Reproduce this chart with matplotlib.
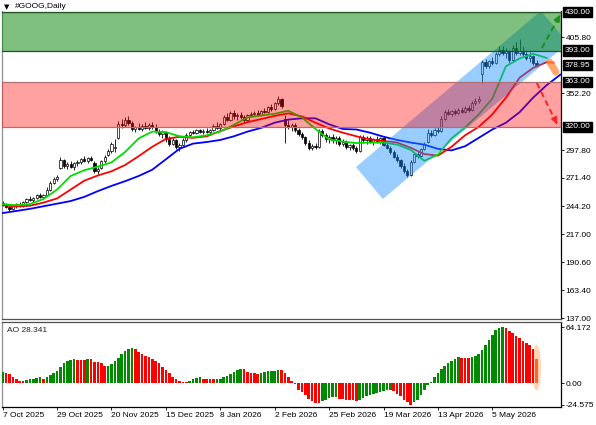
import matplotlib
matplotlib.use("Agg")
import matplotlib.pyplot as plt
from matplotlib.patches import Polygon, Ellipse
import numpy as np

plt.rcParams['font.family'] = ['Liberation Sans', 'DejaVu Sans']
plt.rcParams['font.size'] = 6

# ---------------- data ----------------
opens = [247,245,243,241,244,246,244,248,251,250, 252,255,253,255,260,266,270,281,288,283,
         284,282,285,286,289,287,290,285,278,281, 287,293,297,300,309,323,322,327,324,318,
         320,318,321,319,322,320,316,313,315,308, 304,307,301,303,307,312,315,314,317,315,
         316,315,317,321,319,323,329,327,333,330, 331,329,327,331,332,333,331,335,334,339,
         337,343,347,328,322,320,322,317,313,310, 305,300,302,301,316,312,308,310,307,309,
         304,306,301,303,300,297,310,307,309,306, 308,306,309,303,300,296,291,288,283,278,
         274,286,294,292,299,306,314,312,317,316, 328,334,332,335,333,336,334,338,336,343,
         345,371,382,378,383,381,390,394,391,393, 384,396,391,393,390,386,388,381]
highs = [249,247,245,245,247,248,249,252,254,253, 256,257,256,262,268,272,274,291,289,286,
         287,286,288,290,292,291,292,287,282,288, 293,299,306,308,326,328,329,330,326,321,
         324,323,325,324,325,323,318,317,316,311, 309,308,305,309,314,316,317,318,318,318,
         319,318,323,325,324,331,333,335,336,333, 334,331,332,334,335,336,336,338,340,342,
         344,350,348,331,327,324,324,319,315,311, 307,304,305,318,318,314,312,313,311,311,
         308,307,304,305,302,312,312,311,311,309, 311,310,310,305,302,298,294,289,285,280,
         288,296,297,300,306,318,317,319,320,330, 336,337,336,337,338,339,340,341,345,348,
         350,384,385,384,387,392,397,397,396,394, 398,401,404,397,394,392,389,384]
lows = [244,242,239,240,242,243,243,247,249,248, 251,252,251,254,259,265,268,280,281,280,
        281,279,283,284,286,285,287,276,275,280, 285,292,295,296,308,319,320,322,316,315,
        317,316,318,317,318,314,311,309,306,302, 303,299,297,302,306,311,313,313,314,313,
        314,312,316,318,317,322,326,326,328,327, 328,325,326,329,330,330,330,333,333,335,
        336,341,338,305,318,316,315,311,308,303, 298,298,299,300,310,306,305,305,304,302,
        302,299,298,298,295,296,305,304,305,303, 305,304,302,299,294,290,286,281,276,272,
        273,285,290,291,298,305,310,311,314,315, 327,331,330,331,332,333,333,334,335,341,
        343,362,376,376,379,380,388,389,386,381, 383,389,389,388,384,382,379,377]
closes = [245,243,241,244,246,244,248,251,250,252, 255,253,255,260,266,270,272,288,283,284,
          282,285,286,289,287,290,288,278,280,287, 291,297,304,301,323,322,327,324,318,320,
          318,321,319,322,320,316,313,315,308,304, 307,301,303,307,312,315,314,317,315,316,
          315,317,321,319,323,329,327,333,330,331, 329,327,331,332,333,331,335,334,339,337,
          343,347,340,322,320,322,317,313,310,305, 300,302,301,316,312,308,310,307,309,304,
          306,301,303,300,297,310,307,309,306,308, 306,309,303,300,296,291,288,283,278,274,
          286,294,292,299,304,314,312,317,316,328, 334,332,335,333,336,334,338,336,343,345,
          347,382,378,383,381,390,394,391,393,384, 396,391,393,390,386,388,381,378.95]

ao_values = [12.7, 11.6, 10.4, 7.7, 4.6, 3.1, 2.8, 3.9, 5.0, 5.7,
             6.6, 7.0, 5.7, 7.7, 9.6, 11.6, 14.6, 19.2, 23.1, 25.4,
             27.0, 27.6, 27.2, 26.9, 26.5, 27.8, 27.5, 25.0, 24.3, 23.1,
             20.0, 20.4, 22.4, 25.4, 28.8, 33.5, 37.4, 40.1, 41.2, 39.3,
             36.2, 33.5, 32.0, 30.0, 28.1, 26.1, 23.1, 19.2, 15.4, 11.6,
             7.7, 4.6, 2.7, 1.9, 1.5, 3.1, 5.0, 6.6, 6.9, 5.7,
             5.4, 5.1, 4.6, 5.0, 5.7, 6.9, 8.4, 10.4, 13.5, 15.4,
             16.5, 16.2, 13.5, 12.3, 11.6, 10.4, 12.3, 13.5, 13.8, 14.3,
             14.6, 15.4, 15.0, 11.6, 6.9, 3.1, -0.8, -7.7, -9.6, -13.5,
             -17.3, -20.0, -21.9, -22.4, -20.4, -18.5, -16.5, -15.4, -15.0, -17.3,
             -18.1, -18.5, -18.8, -19.2, -19.6, -18.5, -16.5, -14.6, -13.1, -11.6,
             -10.4, -9.3, -8.4, -7.7, -6.9, -8.4, -11.6, -14.6, -18.5, -21.2,
             -24.575, -21.2, -18.5, -13.5, -7.7, -1.9, 1.9, 6.9, 11.6, 16.2,
             20.0, 23.1, 26.1, 28.1, 30.0, 29.6, 29.4, 29.0, 30.0, 32.0,
             34.0, 38.0, 44.0, 49.8, 55.6, 61.5, 63.4, 64.172, 63.2, 60.5,
             57.4, 54.3, 51.6, 48.9, 46.6, 43.9, 40.0, 28.341]

# Alligator lines (already shifted forward, read at every 4th bar)
lips_bars = list(range(0, 161, 4))
lips = [246, 245, 246, 251, 260, 273, 278.5, 282, 286, 296,
        309, 315.5, 315, 311, 310, 312, 315.5, 322, 329, 331,
        332.5, 335.5, 329, 318, 308, 306, 304.5, 305, 305, 303,
        298, 287.5, 293.5, 309, 319.5, 332, 347, 378, 385.5, 390,
        386]
teeth_bars = list(range(0, 161, 4)) + [162]
teeth = [245, 243.8, 244.5, 247.5, 251.5, 260, 268.5, 273.5, 277.5, 283.5,
         292, 301, 308.5, 310.5, 309.5, 311, 316, 320.5, 324.5, 327.5,
         330.5, 333, 330, 324, 318.5, 314.5, 311, 308, 306.5, 305,
         300, 294, 292.5, 301, 312, 320, 332, 348, 367, 376.5,
         382, 381.5]
jaw_bars = list(range(0, 165, 4)) + [165]
jaw = [237.5, 239.5, 241.5, 244, 246.5, 249, 253, 258.5, 263.5, 268,
       273, 279, 289, 299, 304, 305.5, 307.5, 311, 315.5, 319,
       324, 327, 328.2, 328.2, 322.5, 318, 317.5, 314.5, 310.6, 307.5,
       305, 303, 299, 297.5, 301.5, 309.5, 317.5, 324, 334, 348,
       360, 370, 372]

date_ticks = [0, 16, 32, 48, 64, 80, 96, 112, 128, 144]
date_labels = ['7 Oct 2025', '29 Oct 2025', '20 Nov 2025', '15 Dec 2025', '8 Jan 2026',
               '2 Feb 2026', '25 Feb 2026', '19 Mar 2026', '13 Apr 2026', '5 May 2026']
price_ticks = [137.00, 163.40, 190.60, 217.00, 244.20, 271.40, 297.80, 352.20, 405.80]
marked_levels = [430.00, 393.00, 378.95, 363.00, 320.00]
ao_ticks = [64.172, 0.0, -24.575]
ao_tick_labels = ['64.172', '0.00', '-24.575']

green_zone = (393.0, 430.0)
red_zone = (320.0, 363.0)

channel_bars = [103.9, 111.8, 166.3, 158.3]
channel_prices = [281.6, 250.9, 400.3, 431.0]

up_arrow_bars, up_arrow_prices = [158.6, 163.9], [395.5, 427.1]
down_arrow_bars, down_arrow_prices = [157.1, 163.0], [362.0, 322.8]
orange_bars, orange_prices = [160.9, 162.7], [382.0, 372.5]

# ---------------- figure ----------------
W, H = 596, 425
fig = plt.figure(figsize=(W / 100, H / 100), dpi=100)


def box(x0, y0, x1, y1):
    return [x0 / W, 1 - y1 / H, (x1 - x0) / W, (y1 - y0) / H]


ax = fig.add_axes(box(2, 11.5, 561, 319))
ax2 = fig.add_axes(box(2, 322, 561, 407))

xlim = (-0.2, 164.2)
ax.set_xlim(*xlim)
ax2.set_xlim(*xlim)
ax.set_ylim(136.06, 430.48)
ax2.set_ylim(-26.93, 70.47)

x = np.arange(len(closes))
o = np.array(opens, float)
c = np.array(closes, float)
h = np.maximum(np.array(highs, float), np.maximum(o, c))
l = np.minimum(np.array(lows, float), np.minimum(o, c))
up = c >= o

# candles
ax.vlines(x, l, h, color='black', lw=0.6, zorder=2)
ax.bar(x, np.maximum(np.abs(c - o), 0.5), bottom=np.minimum(o, c), width=0.6,
       color=np.where(up, 'white', 'black'), edgecolor='black', linewidth=0.5, zorder=3)

# alligator
ax.plot(jaw_bars, jaw, color='#0000ff', lw=1.3, zorder=4)
ax.plot(teeth_bars, teeth, color='#ff0000', lw=1.3, zorder=4)
ax.plot(lips_bars, lips, color='#00dd00', lw=1.3, zorder=4)

# channel
ax.add_patch(Polygon(list(zip(channel_bars, channel_prices)), closed=True,
                     facecolor='#1e90ff', alpha=0.45, edgecolor='none', zorder=5))

# zones
ax.axhspan(*green_zone, color=(0, 0.5, 0), alpha=0.5, lw=0, zorder=6)
ax.axhspan(*red_zone, color=(1, 0, 0), alpha=0.37, lw=0, zorder=6)
for lv in green_zone:
    ax.axhline(lv, color='#245224', lw=0.9, zorder=7)
for lv in red_zone:
    ax.axhline(lv, color='#b07070', lw=0.9, zorder=7)

# forecast arrows
ax.plot(up_arrow_bars, up_arrow_prices, color='#1a8f1a', lw=1.4, ls=(0, (3, 2)), zorder=8)
ax.annotate('', xy=(up_arrow_bars[1], up_arrow_prices[1]),
            xytext=(up_arrow_bars[1] - 0.6, up_arrow_prices[1] - 3.6),
            arrowprops=dict(arrowstyle='-|>', color='#1a8f1a', lw=1.2, mutation_scale=9), zorder=8)
ax.plot(down_arrow_bars, down_arrow_prices, color='#ff2020', lw=1.4, ls=(0, (3, 2)), zorder=8)
ax.annotate('', xy=(down_arrow_bars[1], down_arrow_prices[1]),
            xytext=(down_arrow_bars[1] - 0.5, down_arrow_prices[1] + 3.6),
            arrowprops=dict(arrowstyle='-|>', color='#ff2020', lw=1.2, mutation_scale=9), zorder=8)
ax.plot(orange_bars, orange_prices, color='#ff8a3a', lw=5, alpha=0.75,
        solid_capstyle='round', zorder=8)

# AO histogram
ao = np.array(ao_values)
ao_colors = ['#008a00' if (i == 0 or ao[i] > ao[i - 1]) else '#ff0000' for i in range(len(ao))]
ao_colors[-1] = '#ff6420'
ax2.add_patch(Ellipse((x[-1], ao[-1] / 2 + 4), 2.6, ao[-1] + 24,
                      facecolor='#ffa060', alpha=0.45, lw=0, zorder=2))
ax2.bar(x, ao, width=0.72, color=ao_colors, zorder=3)
ax2.text(5 / 559, 1 - 8 / 85, f'AO {ao_values[-1]:.3f}', transform=ax2.transAxes,
         ha='left', va='center', fontsize=6, color='#222222')

# axes styling
for a in (ax, ax2):
    a.yaxis.tick_right()
    a.tick_params(axis='y', length=2, width=0.6, pad=1.2, labelsize=6, colors='black')
    for s in a.spines.values():
        s.set_linewidth(0.9)
    a.spines['left'].set_color('#909090')
    a.spines['right'].set_color('black')

ax.set_yticks(price_ticks)
ax.set_yticklabels([f'{v:.2f}' for v in price_ticks])
ax.tick_params(axis='x', bottom=False, labelbottom=False)
ax.spines['bottom'].set_color('#505050')
ax.spines['top'].set_color('#245224')

ax2.set_yticks(ao_ticks)
ax2.set_yticklabels(ao_tick_labels)
ax2.set_xticks(date_ticks)
ax2.set_xticklabels(date_labels, ha='left')
ax2.tick_params(axis='x', length=2.5, width=0.6, pad=1, labelsize=6)
ax2.spines['top'].set_color('#505050')

for lv in marked_levels:
    ax.annotate(f'{lv:.2f}', xy=(1, lv), xycoords=ax.get_yaxis_transform(),
                xytext=(2.6, 0), textcoords='offset points', ha='left', va='center',
                color='white', fontsize=6, annotation_clip=False, zorder=10,
                bbox=dict(boxstyle='square,pad=0.2', facecolor='black', edgecolor='black'))

fig.text(4 / W, 1 - 7 / H, '▼', fontsize=5, va='center', ha='left', color='black',
         family=['DejaVu Sans'])
fig.text(15 / W, 1 - 7 / H, '#GOOG,Daily', fontsize=6, va='center', ha='left', color='black')

fig.savefig('out.png', dpi=100, facecolor='white')
